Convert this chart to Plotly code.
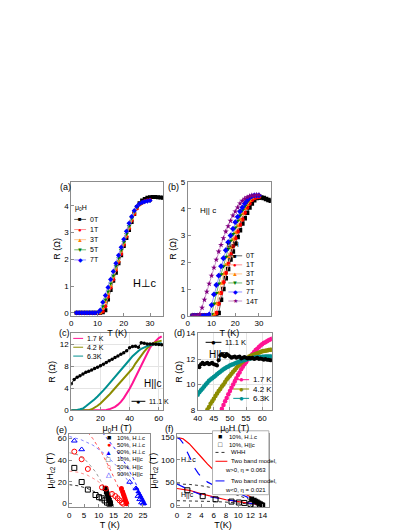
import plotly.graph_objects as go

W, H = 411, 532
FONT = "Liberation Sans, Arial, DejaVu Sans, sans-serif"

# ---------------- (a) R(T), H perpendicular to c ----------------
T_long = [2, 3, 4, 5, 6, 7, 8, 9, 10, 11, 12, 13, 14, 15, 16, 17, 18, 19, 20, 21, 22, 23, 24, 25, 26,
          27, 28, 29, 30, 31, 32, 33, 34, 35]
T_short = [2, 3, 4, 5, 6, 7, 8, 9, 10, 11, 12, 13, 14, 15, 16, 17, 18, 19, 20, 21, 22, 23, 24, 25, 26,
           27, 28, 29, 30]

R_a_0T = [0, 0, 0, 0, 0, 0, 0, 0, 0, 0, 0.02, 0.1, 0.5, 0.85, 1.2, 1.5, 1.85, 2.15, 2.5, 2.8, 3.1, 3.4,
          3.7, 3.95, 4.1, 4.2, 4.26, 4.3, 4.32, 4.33, 4.33, 4.32, 4.31, 4.3]
R_a_1T = [0, 0, 0, 0, 0, 0, 0, 0, 0, 0, 0.05, 0.25, 0.6, 0.95, 1.25, 1.6, 1.9, 2.2, 2.55, 2.85, 3.15,
          3.45, 3.7, 3.9, 4.05, 4.12, 4.17, 4.2, 4.22]
R_a_3T = [0, 0, 0, 0, 0, 0, 0, 0, 0, 0, 0.15, 0.4, 0.7, 1.0, 1.35, 1.65, 1.95, 2.3, 2.6, 2.9, 3.2,
          3.5, 3.75, 3.92, 4.05, 4.12, 4.16, 4.18, 4.2]
R_a_5T = [0, 0, 0, 0, 0, 0, 0, 0, 0, 0.05, 0.25, 0.5, 0.8, 1.1, 1.4, 1.75, 2.05, 2.35, 2.65, 2.95,
          3.25, 3.55, 3.78, 3.95, 4.05, 4.12, 4.15, 4.17, 4.18]
R_a_7T = [0, 0, 0, 0, 0, 0, 0, 0, 0, 0.1, 0.4, 0.65, 0.95, 1.25, 1.55, 1.85, 2.15, 2.45, 2.75, 3.05,
          3.35, 3.6, 3.82, 3.98, 4.08, 4.13, 4.16, 4.18, 4.2]

# ---------------- (b) R(T), H parallel to c ----------------
R_b_0T = [0, 0, 0, 0, 0, 0, 0, 0, 0, 0, 0, 0.1, 0.6, 1.0, 1.4, 1.75, 2.1, 2.4, 2.7, 2.95, 3.2, 3.45,
          3.65, 3.85, 4.05, 4.2, 4.32, 4.4, 4.42, 4.42, 4.4, 4.37, 4.33, 4.3]
R_b_1T = [0, 0, 0, 0, 0, 0, 0, 0, 0, 0, 0.1, 0.45, 0.85, 1.25, 1.6, 1.95, 2.3, 2.6, 2.9, 3.15, 3.4,
          3.6, 3.85, 4.05, 4.2, 4.33, 4.4, 4.43, 4.45]
R_b_3T = [0, 0, 0, 0, 0, 0, 0, 0, 0, 0.05, 0.45, 0.85, 1.2, 1.55, 1.9, 2.2, 2.55, 2.85, 3.1, 3.35,
          3.6, 3.8, 4.0, 4.15, 4.3, 4.4, 4.45, 4.47, 4.47]
R_b_5T = [0, 0, 0, 0, 0, 0, 0, 0, 0.05, 0.45, 0.85, 1.2, 1.55, 1.85, 2.2, 2.5, 2.8, 3.05, 3.3, 3.55,
          3.75, 3.95, 4.1, 4.25, 4.38, 4.45, 4.48, 4.5, 4.5]
R_b_7T = [0, 0, 0, 0, 0, 0, 0, 0.05, 0.4, 0.8, 1.15, 1.5, 1.85, 2.15, 2.45, 2.75, 3.0, 3.25, 3.5,
          3.7, 3.9, 4.05, 4.2, 4.32, 4.42, 4.47, 4.5, 4.5, 4.5]
R_b_14T = [0, 0, 0, 0.05, 0.3, 0.6, 0.9, 1.2, 1.5, 1.8, 2.1, 2.4, 2.65, 2.9, 3.15, 3.35, 3.55, 3.75,
           3.9, 4.05, 4.2, 4.3, 4.38, 4.43, 4.47, 4.5, 4.5, 4.52, 4.52]

# ---------------- (c) R(H) pulsed field, H || c ----------------
H_c = [0, 2, 4, 6, 8, 10, 12, 14, 16, 18, 20, 22, 24, 26, 28, 30, 32, 34, 36, 38, 40, 42, 44, 46,
       48, 50, 52, 54, 56, 58, 60, 62]
R_c_17K = [0, 0, 0, 0, 0, 0, 0, 0, 0, 0, 0, 0, 0.05, 0.15, 0.35, 0.6, 1.0, 1.5, 2.2, 3.0, 3.9, 4.9,
           6.0, 7.2, 8.4, 9.5, 10.5, 11.4, 12.1, 12.7, 13.15, 13.47]
R_c_42K = [0, 0, 0, 0, 0, 0, 0, 0.15, 0.4, 0.8, 1.2, 1.7, 2.2, 2.8, 3.4, 4.0, 4.6, 5.2, 5.8, 6.4,
           7.0, 7.6, 8.5, 9.3, 10.0, 10.7, 11.3, 11.8, 12.2, 12.4, 12.6, 12.7]
R_c_63K = [0, 0, 0.05, 0.15, 0.3, 0.7, 1.1, 1.5, 2.0, 2.5, 3.0, 3.6, 4.2, 4.8, 5.4, 6.0, 6.6, 7.2,
           7.9, 8.5, 9.2, 9.85, 10.4, 10.8, 11.2, 11.5, 11.7, 11.9, 12.03, 12.12, 12.17, 12.2]
R_c_111K = [4.8, 5.6, 6.0, 6.3, 6.6, 6.9, 7.1, 7.35, 7.6, 7.85, 8.1, 8.4, 8.7, 9.0, 9.3, 9.6, 9.9,
            10.2, 10.5, 10.85, 11.4, 11.6, 11.65, 11.5, 12.3, 12.2, 12.1, 12.1, 12.1, 12.05, 12.0, 11.95]

# ---------------- (d) high-field detail ----------------
H_d = [40, 40.5, 41, 41.5, 42, 42.5, 43, 43.5, 44, 44.5, 45, 45.5, 46, 46.5, 47, 47.5, 48, 48.5,
       49, 49.5, 50, 50.5, 51, 51.5, 52, 52.5, 53, 53.5, 54, 54.5, 55, 55.5, 56, 56.5, 57, 57.5,
       58, 58.5, 59, 59.5, 60, 60.5, 61, 61.5, 62, 62.5, 63]
R_d_17K = [3.9, 4.15, 4.4, 4.65, 4.9, 5.2, 5.45, 5.75, 6.0, 6.3, 6.6, 6.9, 7.2, 7.5, 7.8, 8.1, 8.4,
           8.7, 8.95, 9.25, 9.5, 9.75, 10.0, 10.25, 10.5, 10.75, 10.95, 11.2, 11.4, 11.6, 11.75,
           11.95, 12.1, 12.25, 12.4, 12.55, 12.7, 12.8, 12.95, 13.05, 13.15, 13.25, 13.32, 13.4,
           13.47, 13.53, 13.58]
R_d_42K = [7.0, 7.15, 7.3, 7.45, 7.6, 7.8, 8.05, 8.25, 8.5, 8.7, 8.9, 9.1, 9.3, 9.5, 9.65, 9.85,
           10.0, 10.2, 10.4, 10.55, 10.7, 10.85, 11.0, 11.15, 11.3, 11.45, 11.55, 11.7, 11.8, 11.9,
           12.0, 12.1, 12.2, 12.25, 12.3, 12.35, 12.4, 12.45, 12.5, 12.55, 12.6, 12.62, 12.65,
           12.67, 12.7, 12.72, 12.73]
R_d_63K = [9.2, 9.4, 9.55, 9.7, 9.85, 10.0, 10.15, 10.3, 10.4, 10.5, 10.6, 10.7, 10.8, 10.9, 11.0,
           11.1, 11.2, 11.28, 11.35, 11.42, 11.5, 11.55, 11.6, 11.65, 11.7, 11.75, 11.8, 11.85,
           11.9, 11.93, 11.97, 12.0, 12.03, 12.06, 12.08, 12.1, 12.12, 12.14, 12.15, 12.16, 12.17,
           12.18, 12.19, 12.2, 12.2, 12.2, 12.2]
R_d_111K = [11.45, 11.35, 11.6, 11.7, 11.6, 11.65, 11.7, 11.6, 11.65, 11.7, 11.6, 11.55, 11.5,
            11.9, 12.3, 12.4, 12.3, 12.2, 12.4, 12.3, 12.2, 12.1, 12.15, 12.2, 12.1, 12.15, 12.2,
            12.05, 12.1, 12.15, 12.1, 12.05, 12.1, 12.05, 12.1, 12.0, 12.05, 12.1, 12.0, 12.05,
            12.0, 11.95, 12.0, 11.95, 11.95, 11.9, 11.9]

# ---------------- (e) Hc2(T) at 10/50/90 % ----------------
H_perp = [0, 1, 3, 5, 7, 9, 11, 14]
T_perp10 = [14.0, 13.85, 13.6, 13.35, 13.1, 12.85, 12.6, 12.2]
T_perp50 = [19.5, 19.35, 19.1, 18.85, 18.6, 18.35, 18.1, 17.7]
T_perp90 = [25.5, 25.3, 25.0, 24.6, 24.2, 23.8, 23.4, 22.8]
T_par10 = [1.7, 4.2, 6.3, 8.9, 10.1, 11.0, 12.0, 12.8, 13.6]
H_par10 = [33, 20, 13, 8, 6, 5, 3, 1, 0]
T_par50 = [1.7, 4.2, 6.3, 11.1, 12.4, 14.5, 15.6, 16.4, 17.1, 17.8, 18.3]
H_par50 = [48, 41, 32, 15, 14, 9, 7, 5, 3, 1, 0]
T_par90 = [1.7, 4.2, 20.5, 22.6, 23.3, 23.9, 24.5, 25.1]
H_par90 = [58, 50, 20, 14, 7, 4, 1, 0]

whh_par10_T = [0, 3, 6, 9, 11, 12.5, 13.6]
whh_par10_H = [17.5, 16.5, 14.2, 10.5, 7.0, 3.8, 0]
whh_par50_T = [0, 3, 6, 9, 12, 15, 18.3]
whh_par50_H = [30, 29, 26.5, 22, 16, 9, 0]
whh_par90_T = [0, 4, 8, 12, 16, 20, 23, 25.2]
whh_par90_H = [62, 59, 54, 46, 35, 21, 9, 0]
whh_perp10_T = [0, 3, 6, 9, 12, 14]
whh_perp10_H = [47, 45, 39, 29, 15, 0]
whh_perp50_T = [5, 8, 11, 14, 17, 19.5]
whh_perp50_H = [70, 60, 47, 31, 13, 0]
whh_perp90_T = [10, 13, 16, 19, 22, 24, 25.5]
whh_perp90_H = [70, 60, 49, 37, 22, 10, 0]

# ---------------- (f) fits of the 10 % data ----------------
f_whh_perp_T = [0, 2, 4, 6, 8, 10, 12, 14]
f_whh_perp_H = [47, 46, 43, 38, 31, 22, 12, 0]
f_whh_par_T = [0, 2, 4, 6, 8, 10, 12, 13.6]
f_whh_par_H = [10, 9.8, 9.2, 8.2, 6.8, 5.0, 2.7, 0]
tb1_perp_T = [0, 1, 2, 3, 4, 5, 6, 7, 8, 9, 10, 11, 12, 13, 14]
tb1_perp_H = [150, 147, 136, 122, 106, 91, 77, 64, 53, 43, 34, 26, 18, 11, 4]
tb1_par_T = [0, 2, 4, 6, 8, 10, 12, 13, 14]
tb1_par_H = [37, 33, 25, 18, 12, 8, 4.5, 2.5, 0.5]
tb2_perp_T = [0, 0.5, 1, 1.5, 2, 2.5, 3, 3.5, 4, 5, 6, 7, 8, 9, 10, 11, 12, 13, 14]
tb2_perp_H = [150, 146, 137, 123, 107, 92, 80, 70, 62, 51, 44, 39, 35, 31, 27, 21, 14, 8, 2]
tb2_par_T = [0, 1, 2, 3, 4, 6, 8, 10, 12, 14]
tb2_par_H = [47, 40, 34, 28, 23, 17, 12, 8, 4, 0.5]

# ---------------------------------------------------------------
SQ, CI, TU, TD, DI, ST = '\u25a0', '\u25cf', '\u25b2', '\u25bc', '\u25c6', '\u2605'
SQO, CIO, TUO = '\u25a1', '\u25cb', '\u25b3'
PERP = '\u22a5'
MU = '\u03bc'

fig = go.Figure()
shapes, notes = [], []
OX, OY = 10, 8   # layout sketched from the picture, shifted back to its true origin


def px(x):
    return (x - OX) / W


def py(y):
    return 1 - (y - OY) / H


def add_axes(n, box, xr, yr, xt, yt, xtitle, ytitle, grid=False):
    s = '' if n == 1 else str(n)
    x0, x1, y0, y1 = box
    common = dict(showline=True, mirror=True, linecolor='#8c8c8c', linewidth=1,
                  ticks='inside', ticklen=3, tickcolor='#8c8c8c', zeroline=False,
                  showgrid=grid, gridcolor='#e4e4e4', gridwidth=1,
                  tickfont=dict(size=8, color='black'))
    fig.update_layout(**{
        'xaxis' + s: dict(domain=[px(x0), px(x1)], range=xr, tickvals=xt, anchor='y' + s,
                          title=dict(text=xtitle, font=dict(size=9), standoff=0), **common),
        'yaxis' + s: dict(domain=[py(y1), py(y0)], range=yr, tickvals=yt, anchor='x' + s,
                          title=dict(text=ytitle, font=dict(size=9), standoff=2), **common),
    })


def text(x, y, s, size=8, anchor='left', color='black'):
    notes.append(dict(xref='paper', yref='paper', x=px(x), y=py(y), text=s, showarrow=False,
                      xanchor=anchor, yanchor='middle', font=dict(size=size, color=color)))


def key(x, y, label, color, line_color, glyph, dash='solid', length=12, size=7, gsize=7):
    if line_color:
        shapes.append(dict(type='line', xref='paper', yref='paper', x0=px(x), x1=px(x + length),
                           y0=py(y), y1=py(y), line=dict(color=line_color, width=1, dash=dash)))
    if glyph:
        text(x + length / 2, y, glyph, size=gsize, anchor='center', color=color)
    text(x + length + 2, y, label, size=size)


def series(n, x, y, color, symbol, size=3.5, line=None, mode='lines+markers', width=1, dash=None):
    s = '' if n == 1 else str(n)
    m = dict(symbol=symbol, size=size, color=color, line=dict(width=0))
    if symbol.endswith('open'):
        m = dict(symbol=symbol, size=size, color=color, line=dict(width=1, color=color))
    fig.add_trace(go.Scatter(x=x, y=y, xaxis='x' + s, yaxis='y' + s, mode=mode, marker=m,
                             line=dict(color=line or color, width=width, dash=dash)))


R_LAB = 'R (\u03a9)'
MUH = MU + '<sub>0</sub>H'
HC2 = MU + '<sub>0</sub>H<sub>c2</sub> (T)'

# panel boxes in pixels: x0, x1, y0(top), y1(bottom)
add_axes(1, (70, 163, 181, 317), [0, 35], [-0.11, 4.89], [0, 10, 20, 30], [0, 1, 2, 3, 4], 'T (K)', R_LAB)
add_axes(2, (188, 272, 181, 317), [0, 35], [0, 5], [0, 10, 20, 30], [0, 1, 2, 3, 4, 5], 'T (K)', R_LAB)
add_axes(3, (70, 163, 335, 413), [0, 63], [0, 14], [0, 20, 40, 60], [0, 4, 8, 12], MUH + ' (T)', R_LAB, grid=True)
add_axes(4, (198, 273, 335, 413), [40, 63], [8, 14], [40, 45, 50, 55, 60], [8, 10, 12, 14], MUH + ' (T)', R_LAB, grid=True)
add_axes(5, (68, 150, 437, 512), [0, 27.5], [-3.5, 64.5], [0, 5, 10, 15, 20, 25], [0, 20, 40, 60], 'T (K)', HC2)
add_axes(6, (177, 270, 437, 512), [0, 15], [-5, 158], [0, 2, 4, 6, 8, 10, 12, 14], [0, 50, 100, 150], 'T(K)', HC2)

# (a)
a_style = [('0T', '#000000', '#606060', 'square', SQ), ('1T', '#ff0000', '#ff9090', 'circle', CI),
           ('3T', '#ff8000', '#ffc890', 'triangle-up', TU), ('5T', '#008000', '#70b870', 'triangle-down', TD),
           ('7T', '#0000ff', '#9090ff', 'diamond', DI)]
a_data = [(T_long, R_a_0T), (T_short, R_a_1T), (T_short, R_a_3T), (T_short, R_a_5T), (T_short, R_a_7T)]
for (lab, c, lc, sym, g), (tx, ry) in zip(a_style, a_data):
    series(1, tx, ry, c, sym, size=4, line=lc)
text(72, 207, MUH, size=7)
for i, (lab, c, lc, sym, g) in enumerate(a_style):
    key(73, 219 + i * 10.3, lab, c, lc, g, size=7, gsize=6)

# (b)
b_style = a_style + [('14T', '#800080', '#c890c8', 'star', ST)]
b_data = [(T_long, R_b_0T), (T_short, R_b_1T), (T_short, R_b_3T), (T_short, R_b_5T),
          (T_short, R_b_7T), (T_short, R_b_14T)]
for (lab, c, lc, sym, g), (tx, ry) in zip(b_style, b_data):
    series(2, tx, ry, c, sym, size=4.5, line=lc)
text(226, 245, MUH, size=7)
for i, (lab, c, lc, sym, g) in enumerate(b_style):
    key(229, 256 + i * 9.2, lab, c, lc, g, length=14, size=7, gsize=6)

# (c)
c_cols = [('1.7 K', '#ff1493'), ('4.2 K', '#8c8c00'), ('6.3K', '#009090')]
for (lab, c), ry in zip(c_cols, [R_c_17K, R_c_42K, R_c_63K]):
    series(3, H_c, ry, c, 'circle', mode='lines', width=2)
series(3, H_c, R_c_111K, 'black', 'circle', size=3.5, line='black', width=1)
for i, (lab, c) in enumerate(c_cols):
    key(72, 340 + i * 9, lab, c, c, None, length=10, size=7)
key(131, 404, '11.1 K', 'black', 'black', CI, length=14, size=7, gsize=7)

# (d)
for (lab, c), ry in zip(c_cols, [R_d_17K, R_d_42K, R_d_63K]):
    series(4, H_d, ry, c, 'circle', size=4.5, mode='markers')
series(4, H_d, R_d_111K, 'black', 'circle', size=4, line='#555555', width=1)
key(206, 344, '11.1 K', 'black', 'black', CI, length=16, size=7.5, gsize=8)
for i, (lab, c) in enumerate(c_cols):
    key(234, 382 + i * 9.5, lab, c, c, CI, length=16, size=8, gsize=8)

# (e)
for tx, hy, c in [(whh_par90_T, whh_par90_H, '#8080ff'), (whh_perp90_T, whh_perp90_H, '#3030ff'),
                  (whh_par50_T, whh_par50_H, '#ff9090'), (whh_perp50_T, whh_perp50_H, '#ff5050'),
                  (whh_perp10_T, whh_perp10_H, '#999999'), (whh_par10_T, whh_par10_H, '#333333')]:
    series(5, tx, hy, c, 'circle', mode='lines', width=1, dash='dot')
series(5, T_perp10, H_perp, 'black', 'square', size=5, mode='markers')
series(5, T_perp50, H_perp, 'red', 'circle', size=5, mode='markers')
series(5, T_perp90, H_perp, 'blue', 'triangle-up', size=5, mode='markers')
series(5, T_par10, H_par10, 'black', 'square-open', size=5, mode='markers')
series(5, T_par50, H_par50, 'red', 'circle-open', size=5, mode='markers')
series(5, T_par90, H_par90, 'blue', 'triangle-up-open', size=5, mode='markers')
e_keys = [('10%, H' + PERP + 'c', 'black', SQ), ('50%, H' + PERP + 'c', 'red', CI),
          ('90%, H' + PERP + 'c', 'blue', TU), ('10%, H||c', 'black', SQO),
          ('50%, H||c', 'red', CIO), ('90%, H||c', 'blue', TUO)]
for i, (lab, c, g) in enumerate(e_keys):
    key(104, 441 + i * 7.4, lab, c, None, g, length=8, size=6, gsize=7)

# (f)
series(6, f_whh_perp_T, f_whh_perp_H, '#333333', 'circle', mode='lines', dash='dot')
series(6, f_whh_par_T, f_whh_par_H, '#333333', 'circle', mode='lines', dash='dot')
series(6, tb1_perp_T, tb1_perp_H, 'red', 'circle', mode='lines', width=1.2)
series(6, tb1_par_T, tb1_par_H, 'red', 'circle', mode='lines', width=1.2)
series(6, tb2_perp_T, tb2_perp_H, 'blue', 'circle', mode='lines', width=1.2, dash='dash')
series(6, tb2_par_T, tb2_par_H, 'blue', 'circle', mode='lines', width=1.2, dash='dash')
series(6, T_perp10, H_perp, 'black', 'square', size=5, mode='markers')
series(6, T_par10, H_par10, 'black', 'square-open', size=5, mode='markers')
text(179, 463, 'H' + PERP + 'c', size=7)
text(179, 499, 'H||c', size=7)
shapes.append(dict(type='rect', xref='paper', yref='paper', x0=px(213), x1=px(270), y0=py(434),
                   y1=py(499), line=dict(color='#b0b0b0', width=1), fillcolor='white'))
key(216, 440, '10%, H' + PERP + 'c', 'black', None, SQ, length=10, size=6, gsize=7)
key(216, 448, '10%, H||c', 'black', None, SQO, length=10, size=6, gsize=7)
key(216, 456, 'WHH', 'black', '#333333', None, length=12, size=6, dash='dot')
key(216, 465, 'Two band model,', 'red', 'red', None, length=12, size=6)
text(269, 474, 'w>0, \u03b7 = 0.063', size=6, anchor='right')
key(216, 485, 'Two band model,', 'blue', 'blue', None, length=12, size=6, dash='dash')
text(269, 494, 'w<0, \u03b7 = 0.021', size=6, anchor='right')

# panel letters and field labels
for lab, x, y in [('(a)', 57, 186), ('(b)', 166, 186), ('(c)', 56, 335), ('(d)', 172, 335),
                  ('(e)', 53, 433), ('(f)', 163, 432)]:
    text(x, y, lab, size=9)
text(130, 284, 'H' + PERP + 'c', size=11)
text(198, 210, 'H|| c', size=8)
text(142, 386, 'H||c', size=10)
text(207, 356, 'H||c', size=10)

fig.update_layout(width=W, height=H, margin=dict(l=0, r=0, t=0, b=0), showlegend=False,
                  plot_bgcolor='white', paper_bgcolor='white',
                  font=dict(family=FONT, size=8, color='black'),
                  shapes=shapes, annotations=notes)
fig.write_html("out.html")
